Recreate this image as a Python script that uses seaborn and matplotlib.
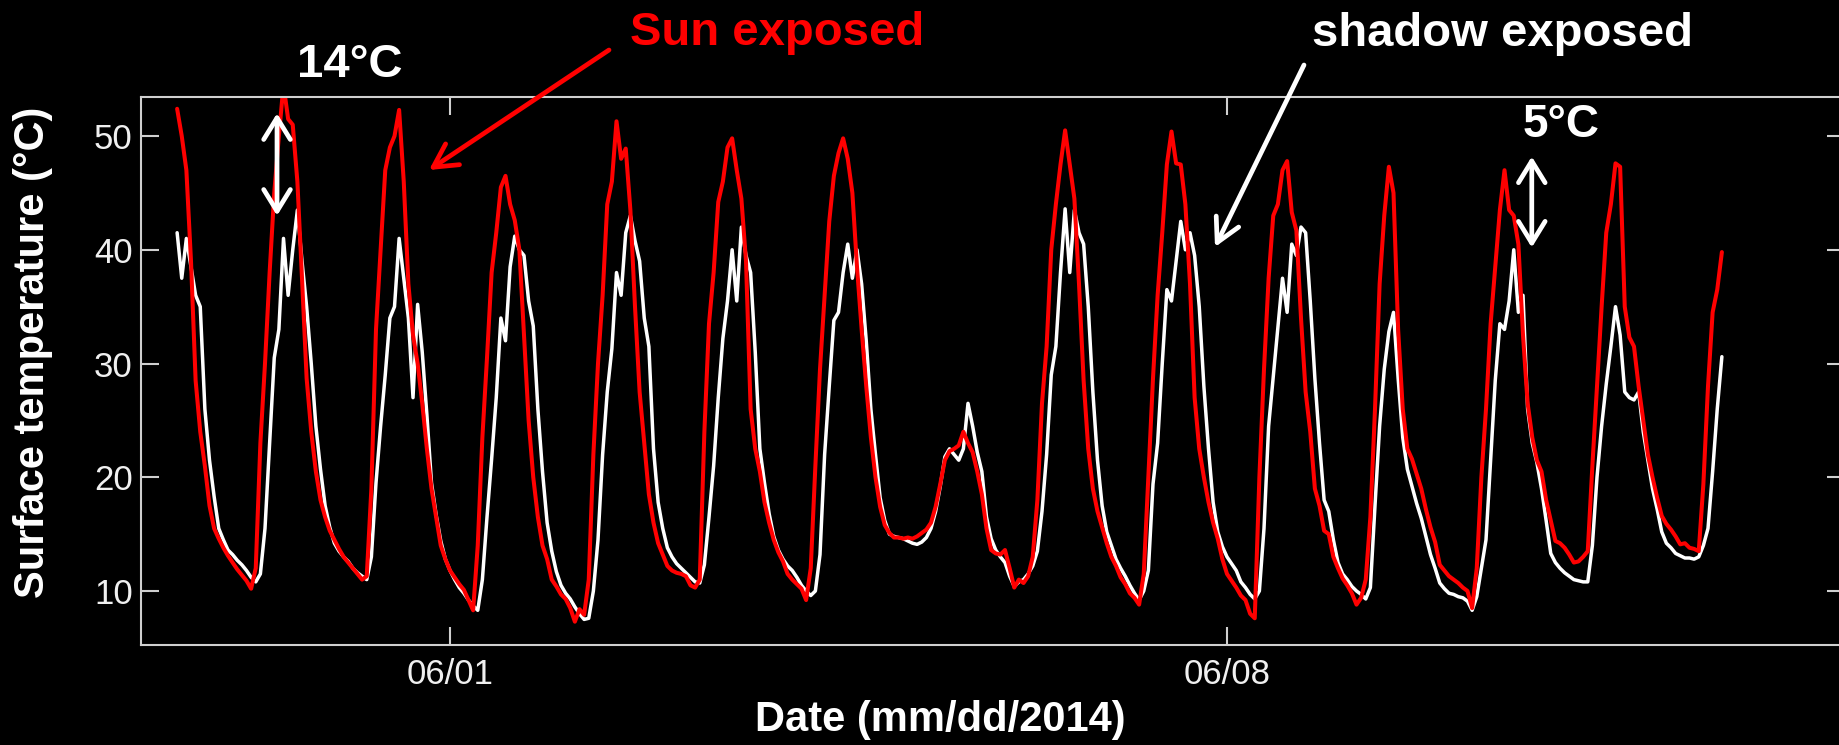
import matplotlib
matplotlib.use("Agg")
import matplotlib.pyplot as plt
import pandas as pd
import seaborn as sns

# Hourly surface temperature readings (deg C), 2014-05-29 13:00 to 2014-06-12 11:00
start_time = "2014-05-29 13:00"

sun_exposed = [
    # 05/29 (13h-23h)
    52.4, 50.0, 47.0, 39.0, 28.5, 24.0, 21.0, 17.5, 15.5, 14.6, 13.8,
    # 05/30
    13.1, 12.5, 11.9, 11.4, 10.9, 10.2, 12.0, 23.0, 30.0, 38.0, 45.0, 50.0,
    54.5, 51.5, 51.0, 46.0, 37.5, 28.7, 24.0, 20.5, 18.0, 16.5, 15.3, 14.5,
    # 05/31
    13.7, 13.0, 12.5, 12.0, 11.5, 11.0, 11.3, 19.0, 33.0, 40.0, 47.0, 49.0,
    50.0, 52.3, 46.0, 37.0, 32.5, 30.0, 26.5, 22.5, 19.0, 16.5, 14.0, 12.8,
    # 06/01
    11.8, 11.2, 10.6, 10.1, 9.2, 8.3, 14.0, 23.5, 30.5, 38.0, 41.5, 45.5,
    46.5, 44.0, 42.6, 40.0, 32.5, 25.0, 20.0, 16.5, 14.0, 12.8, 11.0, 10.4,
    # 06/02
    9.7, 9.3, 8.5, 7.3, 8.4, 7.9, 11.0, 22.0, 30.0, 36.0, 44.0, 46.0,
    51.3, 48.0, 48.9, 43.5, 35.0, 27.5, 23.0, 18.5, 16.0, 14.2, 13.2, 12.2,
    # 06/03
    11.8, 11.6, 11.5, 11.3, 10.5, 10.3, 11.0, 24.0, 33.5, 38.0, 44.2, 46.0,
    49.0, 49.8, 47.0, 44.5, 39.0, 26.0, 22.5, 20.5, 17.8, 16.0, 14.5, 13.4,
    # 06/04
    12.6, 11.5, 11.0, 10.6, 10.2, 9.2, 12.0, 21.0, 29.5, 36.0, 42.5, 46.5,
    48.5, 49.8, 48.0, 45.0, 38.5, 33.0, 28.0, 23.5, 20.0, 17.4, 15.8, 15.1,
    # 06/05
    14.7, 14.7, 14.6, 14.7, 14.6, 14.8, 15.1, 15.4, 16.0, 17.4, 19.4, 21.5,
    22.3, 22.5, 22.8, 24.0, 23.0, 22.2, 20.5, 18.5, 15.5, 13.6, 13.3, 13.2,
    # 06/06
    13.6, 12.0, 10.3, 11.0, 10.7, 11.3, 13.0, 18.0, 26.5, 31.5, 40.0, 44.0,
    47.5, 50.5, 47.5, 44.5, 37.0, 28.5, 22.5, 19.0, 17.0, 15.6, 14.2, 13.0,
    # 06/07
    12.2, 11.2, 10.6, 9.8, 9.4, 8.8, 11.5, 20.0, 28.7, 36.0, 41.5, 47.5,
    50.4, 47.6, 47.5, 44.0, 37.0, 27.0, 22.5, 20.0, 17.8, 16.0, 14.6, 12.8,
    # 06/08
    11.5, 10.9, 10.3, 9.6, 9.2, 8.0, 7.6, 20.0, 29.5, 37.5, 43.0, 44.0,
    47.0, 47.8, 43.3, 41.7, 34.0, 27.5, 24.0, 19.0, 17.5, 15.3, 15.0, 13.0,
    # 06/09
    12.0, 11.1, 10.5, 9.8, 8.8, 9.4, 11.0, 16.5, 26.0, 37.0, 43.0, 47.3,
    45.0, 33.0, 26.0, 22.5, 21.6, 20.3, 19.0, 17.2, 15.6, 14.3, 12.3, 11.8,
    # 06/10
    11.3, 11.0, 10.7, 10.3, 10.0, 8.5, 12.0, 20.0, 26.0, 33.5, 38.5, 43.5,
    47.0, 43.5, 43.0, 40.5, 32.5, 26.5, 23.5, 21.5, 20.5, 18.0, 16.2, 14.4,
    # 06/11
    14.2, 13.8, 13.2, 12.5, 12.6, 13.0, 13.5, 21.0, 28.0, 35.0, 41.5, 44.0,
    47.6, 47.3, 35.0, 32.3, 31.5, 28.0, 25.0, 22.0, 20.0, 18.2, 16.6, 15.9,
    # 06/12 (0h-11h)
    15.4, 14.8, 14.1, 14.2, 13.8, 13.7, 13.5, 19.4, 28.0, 34.5, 36.5, 39.8,
]

shadow_exposed = [
    # 05/29 (13h-23h)
    41.5, 37.5, 41.0, 38.5, 36.0, 35.0, 26.0, 21.5, 18.3, 15.5, 14.5,
    # 05/30
    13.6, 13.2, 12.7, 12.3, 11.8, 11.2, 10.8, 11.5, 15.5, 23.0, 30.5, 33.0,
    41.0, 36.0, 40.0, 43.5, 39.0, 35.0, 30.0, 24.5, 20.7, 17.5, 15.6, 14.2,
    # 05/31
    13.5, 13.0, 12.6, 12.0, 11.6, 11.3, 11.0, 13.0, 19.5, 24.5, 29.0, 34.0,
    35.0, 41.0, 37.5, 34.0, 27.0, 35.2, 31.0, 25.5, 19.5, 16.7, 14.4, 12.8,
    # 06/01
    11.8, 11.0, 10.3, 9.8, 9.2, 8.7, 8.3, 11.0, 16.5, 21.6, 27.0, 34.0,
    32.0, 38.5, 41.2, 40.0, 39.5, 35.5, 33.3, 26.0, 20.5, 16.0, 13.5, 11.7,
    # 06/02
    10.5, 9.8, 9.3, 8.6, 8.0, 7.5, 7.6, 10.0, 14.5, 22.0, 27.5, 31.3,
    38.0, 36.0, 41.5, 43.0, 40.8, 39.0, 34.0, 31.5, 22.5, 17.8, 15.5, 13.8,
    # 06/03
    13.0, 12.4, 12.0, 11.6, 11.2, 10.8, 10.7, 12.3, 16.5, 21.0, 27.0, 32.2,
    35.5, 40.0, 35.5, 42.0, 39.5, 38.0, 31.0, 22.5, 19.5, 16.8, 14.8, 13.6,
    # 06/04
    12.8, 12.2, 11.8, 11.2, 10.5, 10.0, 9.6, 10.0, 13.2, 22.0, 28.0, 33.8,
    34.5, 38.0, 40.5, 37.5, 40.0, 37.0, 32.0, 26.0, 22.0, 18.2, 16.2, 15.0,
    # 06/05
    14.8, 14.7, 14.6, 14.4, 14.2, 14.1, 14.3, 14.7, 15.5, 17.0, 19.2, 21.8,
    22.5, 22.0, 21.5, 22.5, 26.5, 24.5, 22.2, 20.5, 16.5, 14.6, 13.6, 13.0,
    # 06/06
    12.5, 11.3, 10.4, 10.8, 11.0, 11.5, 12.2, 13.5, 17.0, 22.0, 29.0, 31.5,
    38.0, 43.6, 38.0, 43.5, 41.5, 40.5, 35.0, 27.5, 21.5, 17.5, 15.2, 14.0,
    # 06/07
    12.8, 12.0, 11.3, 10.5, 9.8, 9.2, 10.0, 11.8, 19.4, 23.0, 30.0, 36.5,
    35.5, 39.0, 42.5, 40.0, 41.5, 39.5, 35.0, 28.0, 22.5, 17.8, 15.2, 13.9,
    # 06/08
    13.0, 12.4, 11.8, 10.8, 10.3, 9.7, 9.3, 10.0, 15.5, 24.5, 28.8, 33.0,
    37.5, 34.5, 40.5, 39.5, 42.0, 41.5, 35.5, 28.7, 23.0, 18.0, 17.0, 14.5,
    # 06/09
    12.5, 11.5, 11.0, 10.4, 10.0, 9.7, 9.3, 10.3, 17.5, 24.5, 29.5, 32.8,
    34.5, 28.7, 23.5, 20.7, 19.2, 17.7, 16.4, 14.8, 13.2, 12.0, 10.7, 10.2,
    # 06/10
    9.8, 9.7, 9.5, 9.4, 9.1, 8.3, 9.5, 12.0, 14.5, 21.5, 28.5, 33.5,
    33.0, 35.5, 40.0, 34.5, 36.0, 26.0, 23.0, 21.3, 19.0, 16.2, 13.3, 12.5,
    # 06/11
    12.0, 11.6, 11.3, 11.0, 10.9, 10.8, 10.8, 14.0, 20.0, 24.5, 28.2, 31.5,
    35.0, 32.5, 27.5, 27.0, 26.8, 27.5, 24.0, 21.5, 19.0, 17.2, 15.2, 14.2,
    # 06/12 (0h-11h)
    13.8, 13.3, 13.1, 12.9, 12.9, 12.8, 13.0, 14.0, 15.5, 20.5, 26.0, 30.6,
]

date_ticks = ["2014-06-01", "2014-06-08"]
date_tick_labels = ["06/01", "06/08"]
temp_ticks = [10, 20, 30, 40, 50]

# differences highlighted with double arrows: (time, top, bottom, label)
gap_day1 = ("2014-05-30 10:36", 52.0, 43.0, "14°C")
gap_day2 = ("2014-06-10 17:54", 48.2, 40.2, "5°C")

times = pd.date_range(start_time, periods=len(sun_exposed), freq="h")
df = pd.DataFrame({"time": times, "sun": sun_exposed, "shadow": shadow_exposed})

sns.set_theme(style="dark", rc={
    "figure.facecolor": "black",
    "axes.facecolor": "black",
    "axes.edgecolor": "#cfcfcf",
    "axes.grid": False,
    "text.color": "white",
})
plt.rcParams["font.family"] = ["Liberation Sans", "DejaVu Sans"]

W, H = 1839, 745
fig = plt.figure(figsize=(W / 100, H / 100), dpi=100)
ax_left, ax_right, ax_top, ax_bottom = 141, 1845, 97.4, 645
ax = fig.add_axes([ax_left / W, (H - ax_bottom) / H,
                   (ax_right - ax_left) / W, (ax_bottom - ax_top) / H])

sns.lineplot(data=df, x="time", y="shadow", color="white", linewidth=2.5, ax=ax)
sns.lineplot(data=df, x="time", y="sun", color="#ff0000", linewidth=2.9, ax=ax)

px_per_day = 111.0
x0 = pd.Timestamp(date_ticks[0]) - pd.Timedelta(days=(450 - ax_left) / px_per_day)
x1 = x0 + pd.Timedelta(days=(ax_right - ax_left) / px_per_day)
ax.set_xlim(x0, x1)
ax.set_ylim(5.25, 53.4)

ax.set_xticks(pd.to_datetime(date_ticks))
ax.set_xticklabels(date_tick_labels)
ax.set_yticks(temp_ticks)
ax.set_yticklabels([str(t) for t in temp_ticks])
ax.tick_params(axis="both", direction="in", length=13, width=1.5,
               color="#cfcfcf", labelcolor="#f0f0f0", labelsize=25,
               top=True, right=True, bottom=True, left=True)
ax.tick_params(axis="x", pad=9)
ax.tick_params(axis="y", pad=6)
for sp in ax.spines.values():
    sp.set_visible(True)
    sp.set_color("#cfcfcf")
    sp.set_linewidth(1.5)

ax.set_xlabel("Date (mm/dd/2014)", fontsize=30, fontweight="bold",
              color="white", va="center", ha="center")
ax.xaxis.set_label_coords((940 - ax_left) / (ax_right - ax_left),
                          (ax_bottom - 720) / (ax_bottom - ax_top))
ax.set_ylabel("Surface temperature (°C)", fontsize=30, fontweight="bold",
              color="white", va="center", ha="center")
ax.yaxis.set_label_coords((33 - ax_left) / (ax_right - ax_left),
                          (ax_bottom - 352) / (ax_bottom - ax_top))

# annotations
def fig_xy(x, y):
    return (x / W, 1 - y / H)

fig.text(*fig_xy(777, 45), "Sun exposed", color="#ff0000", fontsize=34,
         fontweight="bold", ha="center", va="baseline")
fig.text(*fig_xy(1502, 46), "shadow exposed", color="white", fontsize=34,
         fontweight="bold", ha="center", va="baseline")
fig.text(*fig_xy(350, 77), gap_day1[3], color="white", fontsize=34,
         fontweight="bold", ha="center", va="baseline")
fig.text(*fig_xy(1561, 137), gap_day2[3], color="white", fontsize=33,
         fontweight="bold", ha="center", va="baseline")

pointer = dict(arrowstyle="->,head_length=1.4,head_width=0.75", lw=3.4,
               shrinkA=0, shrinkB=0)
ax.annotate("", xy=(429, H - 170), xytext=(609, H - 50),
            xycoords="figure pixels", textcoords="figure pixels",
            arrowprops=dict(pointer, color="#ff0000"), annotation_clip=False)
ax.annotate("", xy=(1215, H - 247), xytext=(1304, H - 65),
            xycoords="figure pixels", textcoords="figure pixels",
            arrowprops=dict(pointer, color="white"), annotation_clip=False)

double = dict(arrowstyle="<->,head_length=1.3,head_width=0.8", lw=3.4,
              color="white", shrinkA=0, shrinkB=0)
for t, top, bottom, _ in (gap_day1, gap_day2):
    ts = pd.Timestamp(t)
    ax.annotate("", xy=(ts, bottom), xytext=(ts, top), xycoords="data",
                arrowprops=double, annotation_clip=False)

fig.savefig("out.png", dpi=100, facecolor="black")
